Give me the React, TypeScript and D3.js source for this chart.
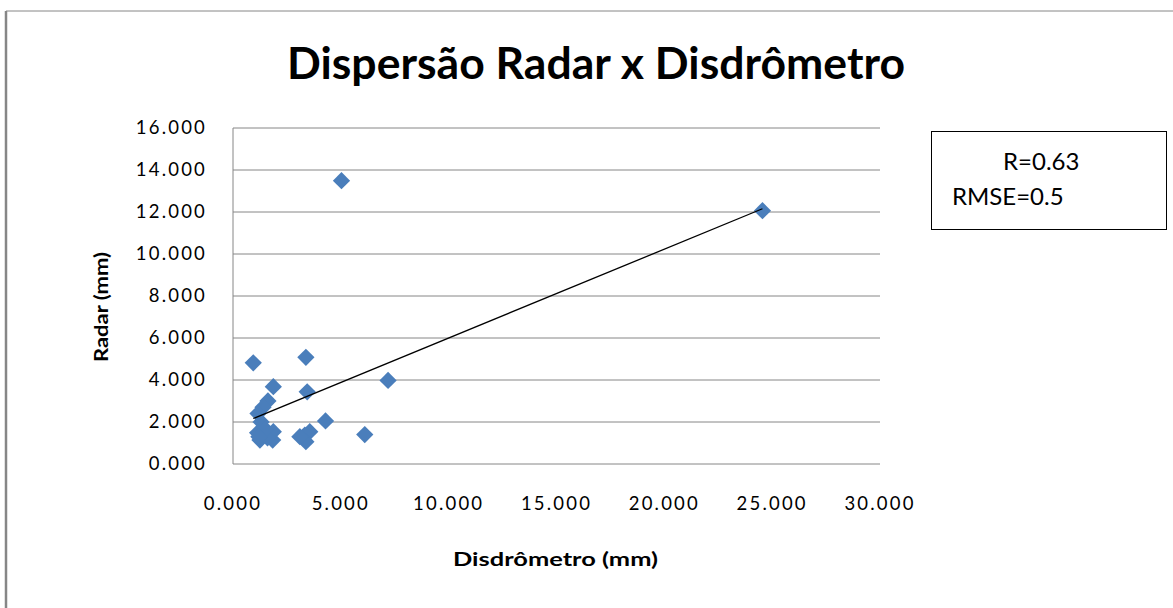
import React from "react";
import * as d3 from "d3";

const disdrometro: number[] = [
  0.94, 3.38, 5.03, 24.55, 1.87, 3.44, 7.19, 1.62, 1.39, 1.16, 1.3, 4.29, 6.11,
  1.14, 1.25, 1.84, 1.4, 1.87, 1.6, 1.5, 1.2,
  3.33, 3.56, 3.38, 3.1,
];
const radar: number[] = [
  4.82, 5.08, 13.49, 12.06, 3.68, 3.44, 3.98, 3.0, 2.7, 2.4, 2.0, 2.05, 1.4,
  1.49, 1.14, 1.14, 1.41, 1.54, 1.25, 1.65, 1.3,
  1.38, 1.54, 1.06, 1.3,
];
const xTicks: number[] = [0, 5, 10, 15, 20, 25, 30];
const yTicks: number[] = [0, 2, 4, 6, 8, 10, 12, 14, 16];
const trendSlope = 0.423;
const trendIntercept = 1.77;
const statsLines: string[] = ["R=0.63", "RMSE=0.5"];
const title = "Dispersão Radar x Disdrômetro";
const xTitle = "Disdrômetro (mm)";
const yTitle = "Radar (mm)";

const FONT = "Lato, 'Open Sans', sans-serif";

export default function App() {
  const left = 233, right = 880, top = 128, bottom = 464;
  const x = d3.scaleLinear().domain([0, 30]).range([left, right]);
  const y = d3.scaleLinear().domain([0, 16]).range([bottom, top]);
  const fmt = d3.format(".3f");
  const diamond = d3.symbol().type(d3.symbolDiamond2).size(190)();
  const xMin = d3.min(disdrometro) as number;
  const xMax = d3.max(disdrometro) as number;
  const trend = d3.line<number>()
    .x((d) => x(d))
    .y((d) => y(trendSlope * d + trendIntercept))([xMin, xMax]);
  const grid = "#868686";

  return (
    <svg
      width={1173}
      height={608}
      style={{ position: "absolute", left: 0, top: 0, background: "#fff" }}
      fontFamily={FONT}
    >
      <rect x={0} y={0} width={1173} height={608} fill="#fff" />
      {/* outer frame */}
      <line x1={6} y1={11} x2={1173} y2={11} stroke={grid} strokeWidth={1} />
      <line x1={6} y1={11} x2={6} y2={608} stroke={grid} strokeWidth={2.5} />

      <text
        x={596}
        y={79}
        textAnchor="middle"
        fontSize={44}
        fontWeight="bold"
        textLength={618}
        lengthAdjust="spacingAndGlyphs"
        fill="#000"
      >
        {title}
      </text>

      {/* gridlines */}
      {yTicks.map((t) => (
        <line key={"g" + t} x1={left} x2={right} y1={y(t)} y2={y(t)} stroke={grid} strokeWidth={1} />
      ))}
      <line x1={left} x2={left} y1={top} y2={bottom} stroke={grid} strokeWidth={1} />

      {/* y tick labels */}
      {yTicks.map((t) => (
        <text
          key={"yl" + t}
          x={207}
          y={y(t)}
          dy="0.35em"
          textAnchor="end"
          fontSize={18.5}
          letterSpacing={2.2}
          fill="#000"
        >
          {fmt(t)}
        </text>
      ))}
      {/* x tick labels */}
      {xTicks.map((t) => (
        <text
          key={"xl" + t}
          x={x(t)}
          y={510}
          textAnchor="middle"
          fontSize={18.5}
          letterSpacing={2.2}
          fill="#000"
        >
          {fmt(t)}
        </text>
      ))}

      {/* axis titles */}
      <text
        x={555.5}
        y={566}
        textAnchor="middle"
        fontSize={19}
        fontWeight="bold"
        textLength={205}
        lengthAdjust="spacingAndGlyphs"
        fill="#000"
      >
        {xTitle}
      </text>
      <text
        transform={`translate(108,307) rotate(-90)`}
        textAnchor="middle"
        fontSize={19}
        fontWeight="bold"
        textLength={110}
        lengthAdjust="spacingAndGlyphs"
        fill="#000"
      >
        {yTitle}
      </text>

      {/* points */}
      {disdrometro.map((d, i) => (
        <path
          key={"p" + i}
          d={diamond as string}
          transform={`translate(${x(d)},${y(radar[i])})`}
          fill="#4a7ebb"
        />
      ))}

      {/* trend line */}
      <path d={trend as string} fill="none" stroke="#000" strokeWidth={1.3} />

      {/* stats box */}
      <rect x={931.5} y={131.5} width={235} height={98} fill="#fff" stroke="#000" strokeWidth={1} />
      <text x={1003} y={170} fontSize={24} fill="#000">{statsLines[0]}</text>
      <text x={952} y={205} fontSize={24} fill="#000">{statsLines[1]}</text>
    </svg>
  );
}
